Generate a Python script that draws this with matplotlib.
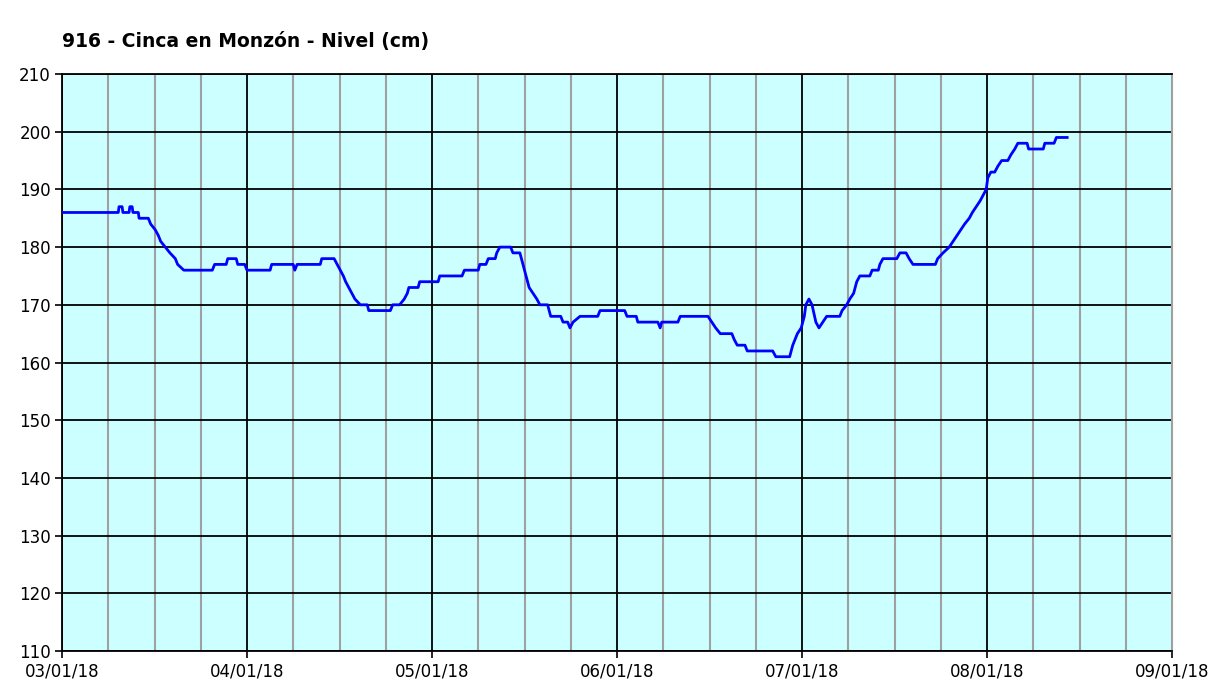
import matplotlib.pyplot as plt
import numpy as np

# hours since 03/01/18 00:00
hours = [0, 7.3, 7.4, 7.8, 7.9, 8.7, 8.8, 9.1, 9.2, 9.9, 10.0, 11.2, 11.5, 12.1, 12.5, 12.8,
         13.4, 14.0, 14.7, 15.0, 15.8, 19.5, 19.8, 21.3, 21.5, 22.6, 22.8, 23.7, 24.0, 27.0,
         27.2, 30.0, 30.2, 30.5, 33.5, 33.7, 35.3, 35.7, 36.1, 36.5, 36.8, 37.2, 37.6, 38.0,
         38.7, 39.6, 39.8, 42.6, 42.9, 43.8, 44.4, 44.8, 45.0, 46.2, 46.4, 48.8, 49.0, 51.9,
         52.2, 54.0, 54.2, 55.0, 55.3, 56.2, 56.4, 56.8, 58.2, 58.5, 59.4, 59.8, 60.2, 60.6,
         61.1, 61.6, 62.0, 63.0, 63.4, 64.7, 65.0, 65.6, 65.9, 66.3, 67.2, 69.5, 69.8, 73.0,
         73.3, 74.5, 74.7, 77.3, 77.6, 77.8, 79.9, 80.2, 83.8, 84.3, 84.8, 85.4, 86.9, 87.2,
         87.6, 88.6, 88.9, 92.2, 92.6, 94.4, 94.8, 95.4, 95.9, 96.3, 96.5, 96.9, 97.3, 97.8,
         98.2, 98.7, 99.2, 100.9, 101.2, 101.8, 102.2, 102.7, 103.1, 103.5, 104.8, 105.1,
         105.9, 106.1, 106.5, 108.3, 108.7, 109.5, 109.9, 110.4, 113.3, 113.6, 114.3, 115.1,
         115.6, 116.1, 116.6, 117.1, 117.7, 118.1, 118.6, 119.1, 119.5, 119.9, 120.1, 120.5,
         121.0, 121.4, 121.9, 122.7, 123.1, 123.6, 124.0, 125.2, 125.4, 127.3, 127.5, 128.7,
         129.0, 130.4]
nivel = [186, 186, 187, 187, 186, 186, 187, 187, 186, 186, 185, 185, 184, 183, 182, 181,
         180, 179, 178, 177, 176, 176, 177, 177, 178, 178, 177, 177, 176, 176,
         177, 177, 176, 177, 177, 178, 178, 177, 176, 175, 174, 173, 172, 171,
         170, 170, 169, 169, 170, 170, 171, 172, 173, 173, 174, 174, 175, 175,
         176, 176, 177, 177, 178, 178, 179, 180, 180, 179, 179, 177, 175, 173,
         172, 171, 170, 170, 168, 168, 167, 167, 166, 167, 168, 168, 169, 169,
         168, 168, 167, 167, 166, 167, 167, 168, 168, 167, 166, 165, 165, 164,
         163, 163, 162, 162, 161, 161, 163, 165, 166, 168, 170, 171, 170, 167,
         166, 167, 168, 168, 169, 170, 171, 172, 174, 175, 175, 176,
         176, 177, 178, 178, 179, 179, 178, 177, 177, 178, 179, 180,
         181, 182, 183, 184, 185, 186, 187, 188, 189, 190, 192, 193,
         193, 194, 195, 195, 196, 197, 198, 198, 197, 197, 198, 198,
         199, 199]

tick_labels = ["03/01/18", "04/01/18", "05/01/18", "06/01/18", "07/01/18", "08/01/18", "09/01/18"]

fig = plt.figure(figsize=(12.19, 6.89), dpi=100)
ax = fig.add_axes([62 / 1219, 1 - 651 / 689, 1110 / 1219, 577 / 689])
ax.set_facecolor("#ccffff")

days = np.array(hours) / 24.0
ax.plot(days, nivel, color="#0000ff", linewidth=2.0, zorder=3)

ax.set_xlim(0, 6)
ax.set_ylim(110, 210)
ax.set_xticks(np.arange(0, 7))
ax.set_xticklabels(tick_labels)
ax.set_xticks(np.arange(0, 6.01, 0.25), minor=True)
ax.set_yticks(np.arange(110, 211, 10))

ax.grid(which="major", axis="both", color="black", linewidth=1.3)
ax.grid(which="minor", axis="x", color="#a0a0a0", linewidth=1.5)
ax.set_axisbelow(True)

ax.tick_params(axis="both", which="major", labelsize=12, length=5, width=1.2, color="black", pad=3)
ax.tick_params(axis="x", which="minor", length=0)

for s in ["left", "bottom", "top"]:
    ax.spines[s].set_color("black")
    ax.spines[s].set_linewidth(1.3)
ax.spines["right"].set_color("#a0a0a0")
ax.spines["right"].set_linewidth(1.5)

fig.text(62 / 1219, 1 - 42 / 689, "916 - Cinca en Monzón - Nivel (cm)", fontsize=13.5,
         fontweight="bold", ha="left", va="center")

fig.savefig("out.png", dpi=100, facecolor="white")
